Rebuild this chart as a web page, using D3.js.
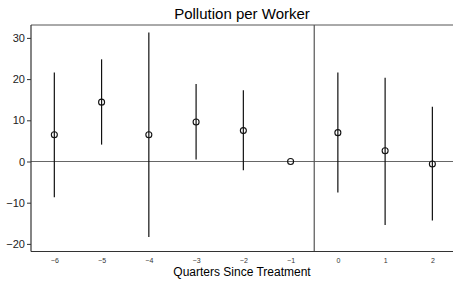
<!DOCTYPE html>
<html><head><meta charset="utf-8">
<script src="https://cdn.jsdelivr.net/npm/d3@7"></script>
<style>body{margin:0;background:#fff}svg{display:block}</style>
</head><body>
<script>
const quarters = [-6, -5, -4, -3, -2, -1, 0, 1, 2];
const estimates = [6.5, 14.4, 6.5, 9.6, 7.5, 0, 7.0, 2.6, -0.6];
const upper = [21.6, 24.8, 31.3, 18.8, 17.3, null, 21.6, 20.3, 13.3];
const lower = [-8.7, 4.1, -18.3, 0.5, -2.1, null, -7.5, -15.4, -14.3];
const yTicks = [-20, -10, 0, 10, 20, 30];
const title = "Pollution per Worker";
const xLabel = "Quarters Since Treatment";

(function () {
const W = 453, H = 281;
const svg = d3.select("body").append("svg").attr("width", W).attr("height", H);
const x = d3.scaleLinear().domain([-6.5, 2.5]).range([30.7, 456]);
const y = d3.scaleLinear().domain([-20, 30]).range([243.9, 37.9]);
const pTop = 25, pBottom = 251.5, pLeft = 31;
const font = "Liberation Sans, Arial, sans-serif";

svg.append("text").attr("x", 242).attr("y", 18.5).attr("text-anchor", "middle")
  .style("font-family", font).style("font-size", "15px").text(title);

svg.append("line").attr("x1", pLeft).attr("x2", W).attr("y1", pTop).attr("y2", pTop)
  .attr("stroke", "#555").attr("stroke-width", 1);

svg.append("line").attr("x1", pLeft).attr("x2", W).attr("y1", y(0)).attr("y2", y(0))
  .attr("stroke", "#666").attr("stroke-width", 1.2);

svg.append("line").attr("x1", x(-0.5)).attr("x2", x(-0.5)).attr("y1", pTop).attr("y2", pBottom)
  .attr("stroke", "#555").attr("stroke-width", 1.2);

const ya = svg.append("g").attr("transform", `translate(${pLeft},0)`)
  .call(d3.axisLeft(y).tickValues(yTicks).tickSize(4).tickPadding(2));
ya.select(".domain").attr("d", `M0,${pTop}V${pBottom}`).attr("stroke", "#333").attr("stroke-width", 1.2);
ya.selectAll(".tick line").attr("stroke", "#333");
ya.selectAll("text").style("font-family", font).style("font-size", "11px").attr("fill", "#222");

const xa = svg.append("g").attr("transform", `translate(0,${pBottom})`)
  .call(d3.axisBottom(x).tickValues(quarters).tickSize(0).tickPadding(7).tickFormat(d3.format("d")));
xa.select(".domain").attr("d", `M${pLeft},0H${W}`).attr("stroke", "#333").attr("stroke-width", 1.2);
xa.selectAll("text").style("font-family", font).style("font-size", "7px").attr("fill", "#333");

svg.append("text").attr("x", 242).attr("y", 275.5).attr("text-anchor", "middle")
  .style("font-family", font).style("font-size", "12px").text(xLabel);

quarters.forEach((q, i) => {
  if (upper[i] !== null) {
    svg.append("line").attr("x1", x(q)).attr("x2", x(q)).attr("y1", y(upper[i])).attr("y2", y(lower[i]))
      .attr("stroke", "#111").attr("stroke-width", 1.2);
  }
});
quarters.forEach((q, i) => {
  svg.append("circle").attr("cx", x(q)).attr("cy", y(estimates[i])).attr("r", 3)
    .attr("fill", "none").attr("stroke", "#111").attr("stroke-width", 1.1);
});
})();
</script>
</body></html>
